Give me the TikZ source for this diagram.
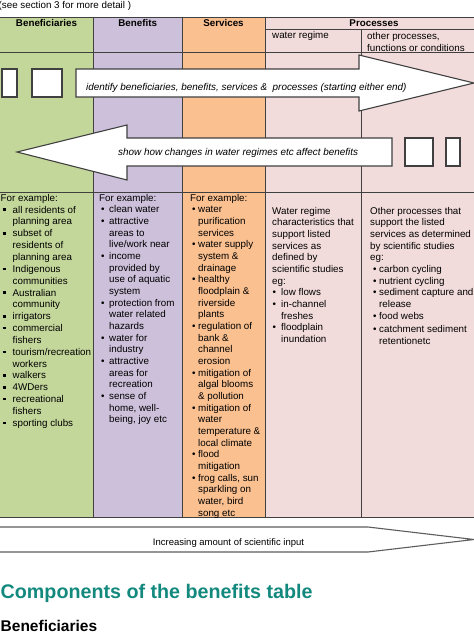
\documentclass[tikz,border=0pt]{standalone}
\usepackage{fontspec}
\setmainfont{Liberation Sans}
\definecolor{cgreen}{HTML}{C4D79B}
\definecolor{cpurple}{HTML}{CCC0DA}
\definecolor{corange}{HTML}{FAC090}
\definecolor{cpink}{HTML}{F2DCDB}
\definecolor{cline}{HTML}{404040}
\definecolor{cteal}{HTML}{13897E}
\newcommand\bi[2]{\hspace*{#1pt}\makebox[#2pt][l]{\textbullet}}
\newcommand\bsq[2]{\hspace*{#1pt}\makebox[#2pt][l]{\raisebox{2.2pt}{\rule{3pt}{2.4pt}}}}
\newcommand\bc[1]{\hspace*{#1pt}}
\newcommand\fl{\rule{0pt}{8pt}}
\begin{document}
\begin{tikzpicture}[x=1pt,y=-1pt,
  grid/.style={draw=cline,line width=0.9pt},
  body/.style={font=\fontsize{9.8}{11.67}\selectfont,inner sep=0pt,anchor=north west,align=left},
  head/.style={font=\fontsize{9.8}{11.67}\selectfont\bfseries,inner sep=0pt,anchor=base},
  sub/.style={font=\fontsize{9.8}{11.67}\selectfont,inner sep=0pt,anchor=base west},
  arrowshape/.style={draw=cline,fill=white,line width=1.1pt,line join=miter},
  lbl/.style={font=\fontsize{9.9}{11.67}\selectfont\itshape,inner sep=0pt,anchor=base west}]
\useasboundingbox (0,0) rectangle (474,635);
\clip (0,0) rectangle (474,635);
% column backgrounds
\fill[cgreen]  (-2,17) rectangle (93,517);
\fill[cpurple] (93,17) rectangle (182,517);
\fill[corange] (182,17) rectangle (265,517);
\fill[cpink]   (265,17) rectangle (480,517);
% grid
\draw[grid] (-2,17) -- (480,17);
\draw[grid] (265,29) -- (480,29);
\draw[grid] (-2,52) -- (480,52);
\draw[grid] (-2,192) -- (480,192);
\draw[grid] (-2,517) -- (480,517);
\foreach \xx in {93,182,265} \draw[grid] (\xx,17) -- (\xx,517);
\draw[grid] (361,29) -- (361,517);
% top note
\node[sub] (note) at (-1.5,8.5) {(see section 3 for more detail )};
% headers
\node[head] (hben) at (46.5,26.5) {Beneficiaries};
\node[head] (hbft) at (137.7,26.5) {Benefits};
\node[head] (hser) at (223.5,26.5) {Services};
\node[head] (hpro) at (374,26.5) {Processes};
\node[sub] (hwr) at (272,38.5) {water regime};
\node[sub,align=left,anchor=north west] (hop) at (367,31.5) {\fl other processes,\\functions or conditions};
% arrow 1 (right)
\draw[arrowshape] (76,69) -- (359,69) -- (359,55) -- (474,83) -- (359,111) -- (359,97) -- (76,97) -- cycle;
\node[lbl] (a1) at (86,90) {identify beneficiaries, benefits, services \&\ \ processes (starting either end)};
\draw[arrowshape] (2,69) rectangle (17,97);
\draw[arrowshape] (32,69) rectangle (62,97);
% arrow 2 (left)
\draw[arrowshape] (17,152) -- (127,125) -- (127,138) -- (392,138) -- (392,166) -- (127,166) -- (127,180) -- cycle;
\node[lbl] (a2) at (118,155) {show how changes in water regimes etc affect benefits};
\draw[arrowshape] (405,138) rectangle (433,166);
\draw[arrowshape] (446,138) rectangle (460,166);
% column texts
\node[body,font=\fontsize{9.8}{11.85}\selectfont] (tben) at (0.5,193) {\fl For example:\\
\bsq{2}{10}all residents of\\ \bc{12}planning area\\
\bsq{2}{10}subset of\\ \bc{12}residents of\\ \bc{12}planning area\\
\bsq{2}{10}Indigenous\\ \bc{12}communities\\
\bsq{2}{10}Australian\\ \bc{12}community\\
\bsq{2}{10}irrigators\\
\bsq{2}{10}commercial\\ \bc{12}fishers\\
\bsq{2}{10}tourism/recreation\\ \bc{12}workers\\
\bsq{2}{10}walkers\\
\bsq{2}{10}4WDers\\
\bsq{2}{10}recreational\\ \bc{12}fishers\\
\bsq{2}{10}sporting clubs};
\node[body] (tbft) at (99,193) {\fl For example:\\
\bi{2}{8}clean water\\
\bi{2}{8}attractive\\ \bc{10}areas to\\ \bc{10}live/work near\\
\bi{2}{8}income\\ \bc{10}provided by\\ \bc{10}use of aquatic\\ \bc{10}system\\
\bi{2}{8}protection from\\ \bc{10}water related\\ \bc{10}hazards\\
\bi{2}{8}water for\\ \bc{10}industry\\
\bi{2}{8}attractive\\ \bc{10}areas for\\ \bc{10}recreation\\
\bi{2}{8}sense of\\ \bc{10}home, well-\\ \bc{10}being, joy etc};
\node[body] (tser) at (190,193) {\fl For example:\\
\bi{2}{6}water\\ \bc{8}purification\\ \bc{8}services\\
\bi{2}{6}water supply\\ \bc{8}system \&\\ \bc{8}drainage\\
\bi{2}{6}healthy\\ \bc{8}floodplain \&\\ \bc{8}riverside\\ \bc{8}plants\\
\bi{2}{6}regulation of\\ \bc{8}bank \&\\ \bc{8}channel\\ \bc{8}erosion\\
\bi{2}{6}mitigation of\\ \bc{8}algal blooms\\ \bc{8}\& pollution\\
\bi{2}{6}mitigation of\\ \bc{8}water\\ \bc{8}temperature \&\\ \bc{8}local climate\\
\bi{2}{6}flood\\ \bc{8}mitigation\\
\bi{2}{6}frog calls, sun\\ \bc{8}sparkling on\\ \bc{8}water, bird\\ \bc{8}song etc};
\node[body] (twr) at (272,206) {\fl Water regime\\
characteristics that\\ support listed\\ services as\\ defined by\\ scientific studies\\ eg:\\
\bi{0.5}{8.5}low flows\\
\bi{0.5}{8.5}in-channel\\ \bc{9}freshes\\
\bi{0.5}{8.5}floodplain\\ \bc{9}inundation};
\node[body] (toth) at (370,206) {\fl Other processes that\\
support the listed\\ services as determined\\ by scientific studies\\ eg:\\
\bi{3}{6}carbon cycling\\
\bi{3}{6}nutrient cycling\\
\bi{3}{6}sediment capture and\\ \bc{9}release\\
\bi{3}{6}food webs\\[2pt]
\bi{3}{6}catchment sediment\\ \bc{9}retentionetc};
% bottom arrow
\draw[arrowshape,draw=cline!85] (-2,527) -- (368,527) -- (474,539.5) -- (368,552) -- (-2,552) -- cycle;
\node[font=\fontsize{9.5}{11}\selectfont,inner sep=0pt,anchor=base] (sci) at (228.5,545) {Increasing amount of scientific input};
% heading
\node[font=\fontsize{19.7}{22}\selectfont\bfseries,text=cteal,inner sep=0pt,anchor=base west] (ttl) at (0.5,598) {Components of the benefits table};
\node[font=\fontsize{15.5}{18}\selectfont\bfseries,inner sep=0pt,anchor=base west] (bsub) at (0.5,631) {Beneficiaries};
\end{tikzpicture}
\end{document}
